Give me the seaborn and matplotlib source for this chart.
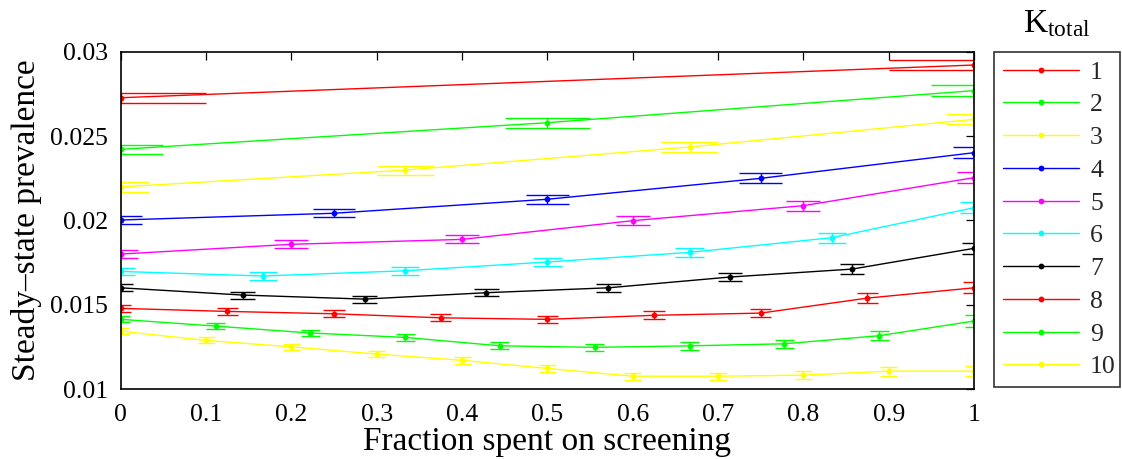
import numpy as np
import pandas as pd
import matplotlib
matplotlib.use("Agg")
import matplotlib.pyplot as plt
import seaborn as sns
from matplotlib.lines import Line2D
from matplotlib.ticker import FuncFormatter

# ---------------- data ----------------
k_values = [1, 2, 3, 4, 5, 6, 7, 8, 9, 10]
prev_k1 = [0.02727, 0.02921]
prev_k2 = [0.02421, 0.02579, 0.02769]
prev_k3 = [0.02198, 0.02298, 0.02435, 0.02599]
prev_k4 = [0.02002, 0.02042, 0.02125, 0.02249, 0.02401]
prev_k5 = [0.01800, 0.01858, 0.01887, 0.01998, 0.02087, 0.02253]
prev_k6 = [0.01697, 0.01670, 0.01701, 0.01753, 0.01810, 0.01897, 0.02075]
prev_k7 = [0.01600, 0.01557, 0.01533, 0.01571, 0.01600, 0.01664, 0.01711, 0.01834]
prev_k8 = [0.01478, 0.01460, 0.01446, 0.01422, 0.01413, 0.01437, 0.01450, 0.01539, 0.01600]
prev_k9 = [0.01413, 0.01373, 0.01332, 0.01306, 0.01256, 0.01247, 0.01256, 0.01268, 0.01316, 0.01403]
prev_k10 = [0.01343, 0.01288, 0.01250, 0.01207, 0.01170, 0.01122, 0.01076, 0.01076, 0.01082, 0.01106, 0.01106]

err_k1 = [0.00030, 0.00031]
err_k2 = [0.00028, 0.00030, 0.00031]
err_k3 = [0.00027, 0.00027, 0.00029, 0.00030]
err_k4 = [0.00024, 0.00024, 0.00027, 0.00029, 0.00031]
err_k5 = [0.00022, 0.00024, 0.00024, 0.00027, 0.00030, 0.00031]
err_k6 = [0.00022, 0.00022, 0.00023, 0.00025, 0.00028, 0.00029, 0.00034]
err_k7 = [0.00021, 0.00021, 0.00021, 0.00022, 0.00024, 0.00026, 0.00028, 0.00034]
err_k8 = [0.00019, 0.00020, 0.00021, 0.00021, 0.00022, 0.00024, 0.00026, 0.00029, 0.00032]
err_k9 = [0.00018, 0.00018, 0.00019, 0.00020, 0.00020, 0.00021, 0.00023, 0.00024, 0.00026, 0.00033]
err_k10 = [0.00018, 0.00018, 0.00018, 0.00019, 0.00019, 0.00019, 0.00020, 0.00021, 0.00024, 0.00026, 0.00031]

prevalence = [prev_k1, prev_k2, prev_k3, prev_k4, prev_k5,
              prev_k6, prev_k7, prev_k8, prev_k9, prev_k10]
errors = [err_k1, err_k2, err_k3, err_k4, err_k5,
          err_k6, err_k7, err_k8, err_k9, err_k10]

colors = ["#ff0000", "#00ff00", "#ffff00", "#0000ff", "#ff00ff",
          "#00ffff", "#000000", "#ff0000", "#00ff00", "#ffff00"]

x_ticks = [0, 0.1, 0.2, 0.3, 0.4, 0.5, 0.6, 0.7, 0.8, 0.9, 1]
y_ticks = [0.01, 0.015, 0.02, 0.025, 0.03]

# build long table: fraction = i / K
rows = []
for k, vals, errs in zip(k_values, prevalence, errors):
    for i, (v, e) in enumerate(zip(vals, errs)):
        rows.append({"K": k, "fraction": i / k, "prevalence": v, "err": e})
df = pd.DataFrame(rows)

# ---------------- plot ----------------
sns.set_theme(style="white")
plt.rcParams["font.family"] = ["Liberation Serif", "DejaVu Serif"]
plt.rcParams["mathtext.default"] = "regular"

fig = plt.figure(figsize=(11.22, 4.59), dpi=100)
ax = fig.add_axes([0.1076, 0.1525, 0.7605, 0.7349])

palette = {k: c for k, c in zip(k_values, colors)}
sns.lineplot(data=df, x="fraction", y="prevalence", hue="K", palette=palette,
             marker="o", markersize=4.2, markeredgewidth=0, linewidth=1.0,
             legend=False, ax=ax, sort=True, estimator=None)

# error bars with caps whose half-width is 0.1/K in data units
for k in k_values:
    sub = df[df["K"] == k]
    c = palette[k]
    hw = 0.1 / k
    ax.vlines(sub["fraction"], sub["prevalence"] - sub["err"],
              sub["prevalence"] + sub["err"], colors=c, linewidth=1.0)
    ax.hlines(sub["prevalence"] - sub["err"], sub["fraction"] - hw,
              sub["fraction"] + hw, colors=c, linewidth=1.0)
    ax.hlines(sub["prevalence"] + sub["err"], sub["fraction"] - hw,
              sub["fraction"] + hw, colors=c, linewidth=1.0)

ax.set_xlim(0, 1)
ax.set_ylim(0.01, 0.03)
ax.set_xticks(x_ticks)
ax.set_yticks(y_ticks)
ax.xaxis.set_major_formatter(FuncFormatter(lambda v, p: "%g" % v))
ax.yaxis.set_major_formatter(FuncFormatter(lambda v, p: "%g" % v))
ax.tick_params(axis="both", which="major", direction="in", length=6,
               width=0.9, color="black", labelsize=18.5, top=True, right=True,
               labelcolor="black")
ax.tick_params(axis="x", pad=11)
ax.tick_params(axis="y", pad=9)
for s in ax.spines.values():
    s.set_visible(True)
    s.set_color("black")
    s.set_linewidth(1.2)
ax.grid(False)
ax.set_facecolor("white")
ax.set_xlabel("Fraction spent on screening", fontsize=24, labelpad=0, color="black")
ax.set_ylabel("Steady\u2013state prevalence", fontsize=24, labelpad=6, color="black")

# legend
handles = [Line2D([0], [0], color=c, lw=1.0, marker="o", markersize=4.2,
                  markeredgewidth=0) for c in colors]
labels = [str(k) for k in k_values]
leg = fig.legend(handles, labels, loc="upper left",
                 bbox_to_anchor=(994 / 1122, 1 - 387 / 459, 126 / 1122, 335 / 459),
                 mode="expand", borderaxespad=0, fontsize=18.5, frameon=True,
                 fancybox=False, labelspacing=0.38, handlelength=2.95,
                 handletextpad=0.45, borderpad=0.34)
leg.get_frame().set_edgecolor("black")
leg.get_frame().set_linewidth(1.2)
fig.text(1057 / 1122, 1 - 32 / 459, r"$K_{total}$", fontsize=24,
         ha="center", va="baseline", color="black")

fig.savefig("out.png", dpi=100, facecolor="white")
